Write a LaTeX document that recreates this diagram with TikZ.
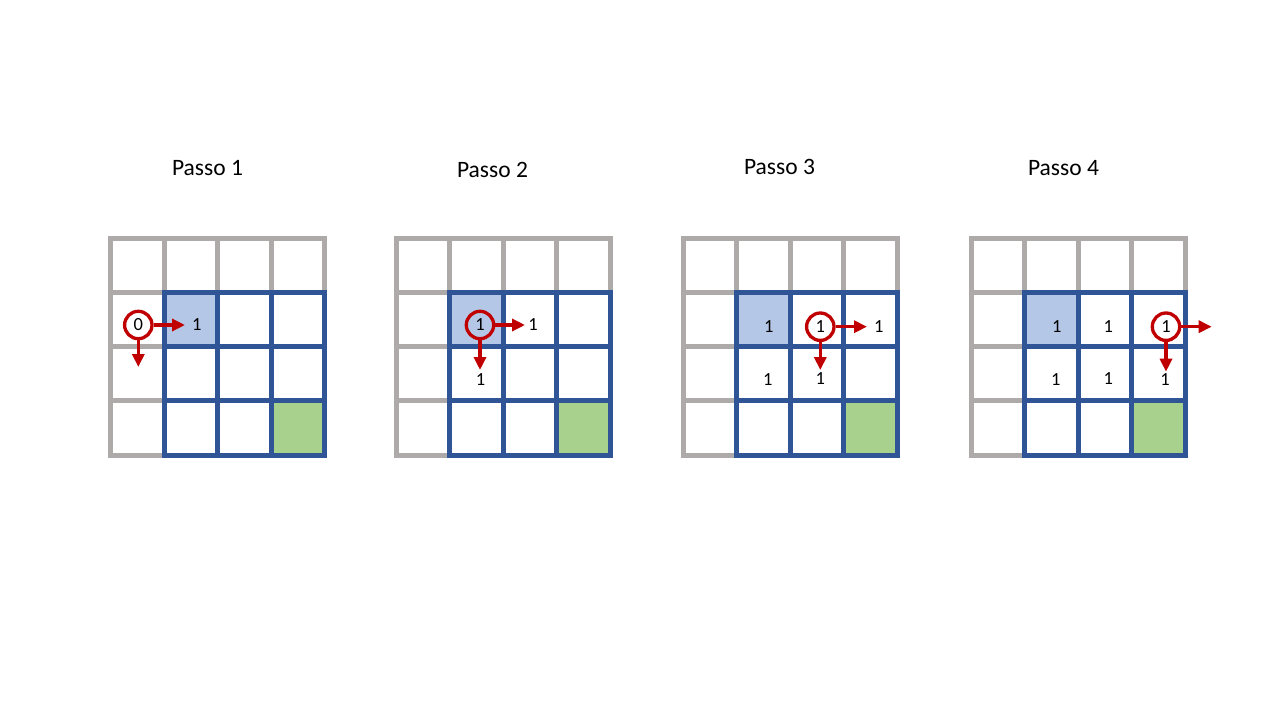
\documentclass[tikz,border=0pt]{standalone}
\usepackage{fontspec}
\setmainfont{Carlito}
\usetikzlibrary{arrows.meta}
\definecolor{gridgray}{HTML}{AEAAAA}
\definecolor{gridblue}{HTML}{2F5597}
\definecolor{lightblue}{HTML}{B4C7E7}
\definecolor{lightgreen}{HTML}{A9D18E}
\definecolor{darkred}{HTML}{C00000}
\tikzset{
  grayline/.style={draw=gridgray, line width=5pt, line cap=rect},
  blueline/.style={draw=gridblue, line width=5pt, line cap=rect},
  title/.style={font=\fontsize{23.5}{28}\selectfont, anchor=base, inner sep=0pt},
  val/.style={font=\fontsize{18.5}{22}\selectfont, inner sep=0pt},
  mark circle/.style={circle, draw=darkred, line width=3.3pt, minimum size=27.4pt, inner sep=0pt, font=\fontsize{18.5}{22}\selectfont},
  redarrow/.style={draw=darkred, line width=3.5pt, -{Triangle[length=13pt,width=12pt]}},
}
\newcommand{\qgrid}[1]{%
  \begin{scope}[xshift=#1pt]
    \fill[lightblue] (53.5,292.3) rectangle (107,346.5);
    \fill[lightgreen] (160.5,400.8) rectangle (214,455);
    \foreach \xx in {0,53.5,107,160.5,214} {\draw[grayline] (\xx,238) -- (\xx,455);}
    \foreach \yy in {238,292.3,346.5,400.8,455} {\draw[grayline] (0,\yy) -- (214,\yy);}
    \foreach \xx in {53.5,107,160.5,214} {\draw[blueline] (\xx,292.3) -- (\xx,455);}
    \foreach \yy in {292.3,346.5,400.8,455} {\draw[blueline] (53.5,\yy) -- (214,\yy);}
  \end{scope}}
\begin{document}
\begin{tikzpicture}[x=1pt,y=-1pt]
\useasboundingbox (0,0) rectangle (1280,720);
\fill[white] (0,0) rectangle (1280,720);
% grids
\qgrid{110.5}
\qgrid{396}
\qgrid{683}
\qgrid{971}
% titles
\node[title] (t1) at (207.5,175.7) {Passo 1};
\node[title] (t2) at (492.5,177.7) {Passo 2};
\node[title] (t3) at (779.5,174.7) {Passo 3};
\node[title] (t4) at (1063.5,175.7) {Passo 4};
% step 1
\node[mark circle] (c1) at (138.3,325) {0};
\node[val] (v1r) at (196.7,325) {1};
\coordinate (e1r) at (185,325);
\coordinate (e1d) at (138.3,367);
\draw[redarrow] (c1.east) -- (e1r);
\draw[redarrow] (c1.south) -- (e1d);
% step 2
\node[mark circle] (c2) at (480,325) {1};
\node[val] (v2r) at (533,325) {1};
\node[val] (v2d) at (480.5,380) {1};
\coordinate (e2r) at (525,325);
\coordinate (e2d) at (480,370);
\draw[redarrow] (c2.east) -- (e2r);
\draw[redarrow] (c2.south) -- (e2d);
% step 3
\node[val] (v3a) at (768.7,326.7) {1};
\node[val] (v3b) at (767.7,380) {1};
\node[mark circle] (c3) at (820.3,326.7) {1};
\node[val] (v3r) at (878.7,326.7) {1};
\node[val] (v3d) at (820.3,378.3) {1};
\coordinate (e3r) at (867,326.7);
\coordinate (e3d) at (820.3,370);
\draw[redarrow] (c3.east) -- (e3r);
\draw[redarrow] (c3.south) -- (e3d);
% step 4
\node[val] (v4a) at (1056.7,326.7) {1};
\node[val] (v4b) at (1108.3,326.7) {1};
\node[val] (v4c) at (1055.7,380) {1};
\node[val] (v4d) at (1108.3,379) {1};
\node[val] (v4e) at (1165,380) {1};
\node[mark circle] (c4) at (1166,326.7) {1};
\coordinate (e4r) at (1211.7,326.7);
\coordinate (e4d) at (1166,371.7);
\draw[redarrow] (c4.east) -- (e4r);
\draw[redarrow] (c4.south) -- (e4d);
\end{tikzpicture}
\end{document}
